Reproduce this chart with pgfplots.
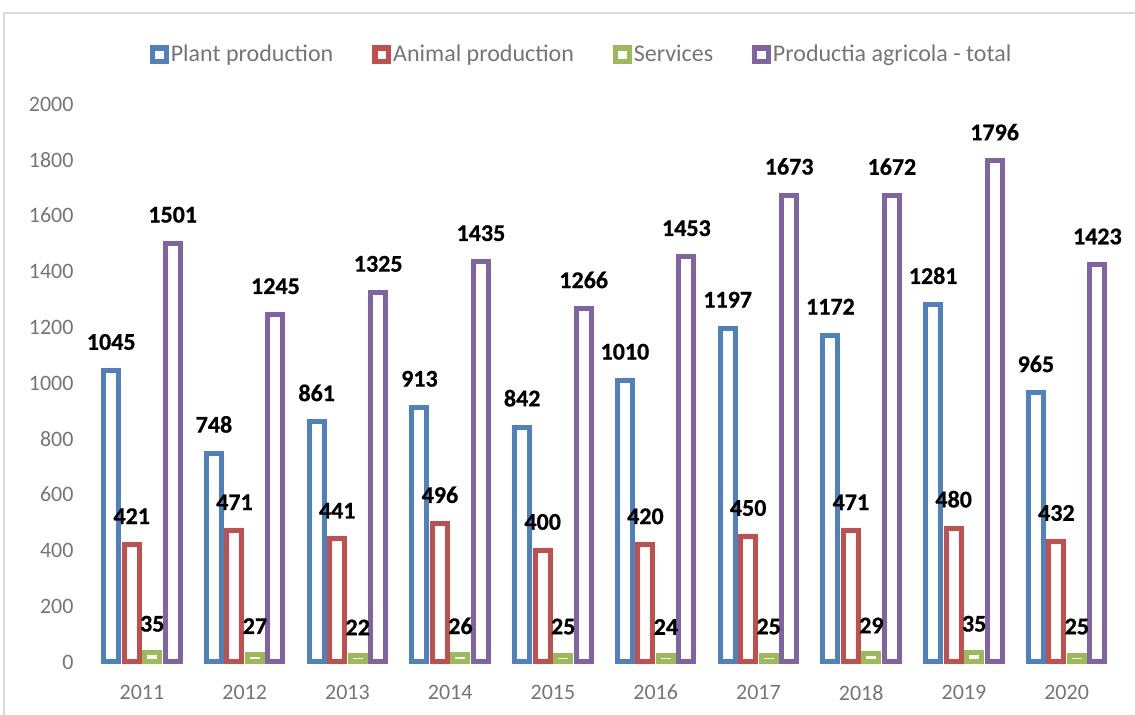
\documentclass[border=0pt]{standalone}
\usepackage{fontspec}
\setmainfont{Carlito}
\newfontfamily\lblfont{Carlito}[BoldFeatures={FakeBold=0.7}]
\usepackage{pgfplots}
\pgfplotsset{compat=1.18}
\definecolor{cblue}{HTML}{4F81BD}
\definecolor{cred}{HTML}{C0504D}
\definecolor{cgreen}{HTML}{9BBB59}
\definecolor{cpurple}{HTML}{8064A2}
\definecolor{tickgray}{HTML}{757575}
\definecolor{framegray}{HTML}{D9D9D9}
\begin{document}
\begin{tikzpicture}
\useasboundingbox (-45.3pt,-26.5pt) rectangle (522.2pt,331pt);
\draw[color=framegray, line width=1.2pt] (-43.3pt,-30pt) -- (-43.3pt,324.5pt) -- (530pt,324.5pt);
\begin{axis}[
  at={(0pt,0pt)}, anchor=south west,
  scale only axis, width=513.7pt, height=279pt,
  xmin=-0.5, xmax=9.5, ymin=0, ymax=2000,
  clip=false,
  ybar=2.75pt, bar width=7.5pt,
  axis line style={draw=none},
  major tick length=0pt,
  xtick={0,1,2,3,4,5,6,7,8,9},
  xticklabels={2011,2012,2013,2014,2015,2016,2017,2018,2019,2020},
  ytick={0,200,400,600,800,1000,1200,1400,1600,1800,2000},
  tick label style={font=\fontsize{11}{13}\selectfont, text=tickgray},
  /pgf/number format/assume math mode=true,
  /pgf/number format/1000 sep={},
  yticklabel style={xshift=-5pt},
  xticklabel style={yshift=-8pt},
  nodes near coords,
  nodes near coords style={font=\lblfont\bfseries\fontsize{12}{14}\selectfont, text=black, inner sep=0pt, yshift=9pt},
  legend columns=-1,
  legend style={at={(0.478,1.088)}, anchor=center, draw=none, fill=none,
    font=\fontsize{12}{14}\selectfont, text=tickgray,
    nodes={inner sep=1pt},
    /tikz/every even column/.append style={column sep=18.5pt}},
  legend image code/.code={\draw[#1, line width=2.6pt, fill=white] (0pt,-3.4pt) rectangle (6.8pt,3.4pt);},
]
\addplot[draw=cblue, fill=white, line width=2.5pt] coordinates {(0,1045) (1,748) (2,861) (3,913) (4,842) (5,1010) (6,1197) (7,1172) (8,1281) (9,965)};
\addplot[draw=cred, fill=white, line width=2.5pt] coordinates {(0,421) (1,471) (2,441) (3,496) (4,400) (5,420) (6,450) (7,471) (8,480) (9,432)};
\addplot[draw=cgreen, fill=white, line width=2.5pt] coordinates {(0,35) (1,27) (2,22) (3,26) (4,25) (5,24) (6,25) (7,29) (8,35) (9,25)};
\addplot[draw=cpurple, fill=white, line width=2.5pt] coordinates {(0,1501) (1,1245) (2,1325) (3,1435) (4,1266) (5,1453) (6,1673) (7,1672) (8,1796) (9,1423)};
\legend{Plant production, Animal production, Services, Productia agricola - total}
\end{axis}
\end{tikzpicture}
\end{document}
